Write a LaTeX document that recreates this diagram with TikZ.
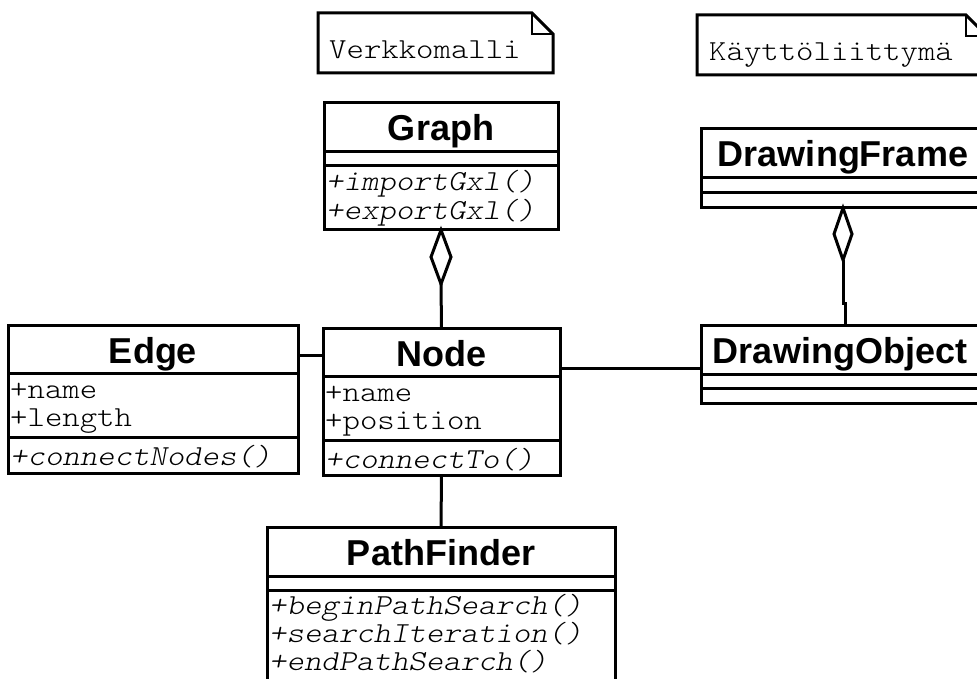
\documentclass[tikz,border=0pt]{standalone}
\usepackage{fontspec}
\newfontfamily\umlsans{Liberation Sans}
\newfontfamily\umlmono{lmmonolt10-regular}[Extension=.otf, ItalicFont=lmmonolt10-oblique, FakeStretch=1.143]
\begin{document}
\begin{tikzpicture}[x=1pt,y=-1pt,
  umlline/.style={line width=3pt, line join=miter},
  foldline/.style={line width=2pt},
  classbox/.style={draw, line width=3pt, anchor=north west, inner sep=0pt, outer sep=0pt},
  cname/.style={font=\umlsans\bfseries\fontsize{36}{36}\selectfont, inner sep=0pt, anchor=base},
  attr/.style={font=\umlmono\fontsize{29}{29}\selectfont, inner sep=0pt, anchor=base west},
  meth/.style={font=\umlmono\itshape\fontsize{29}{29}\selectfont, inner sep=0pt, anchor=base west},
  notetext/.style={font=\umlmono\fontsize{29}{29}\selectfont, inner sep=0pt, anchor=base west}]
\clip (0,0) rectangle (977,679);

% notes
\draw[umlline] (318,13) -- (532,13) -- (553,34) -- (553,73) -- (318,73) -- cycle;
\draw[foldline] (532,13) -- (532,34) -- (553,34);
\node[notetext] (n1) at (329,59) {Verkkomalli};
\draw[umlline] (697,15) -- (966,15) -- (987,36) -- (987,75) -- (697,75) -- cycle;
\draw[foldline] (966,15) -- (966,36) -- (987,36);
\node[notetext] (n2) at (709,61) {Käyttöliittymä};

% Graph
\node[classbox, minimum width=234pt, minimum height=127pt] (graph) at (324,103) {};
\draw[umlline] (graph.west |- 0,152) -- (graph.east |- 0,152);
\draw[umlline] (graph.west |- 0,166) -- (graph.east |- 0,166);
\node[cname] (graphT) at (441,141) {Graph};
\node[meth] (graphM1) at (326,191) {+importGxl()};
\node[meth] (graphM2) at (326,219) {+exportGxl()};

% Edge
\node[classbox, minimum width=290pt, minimum height=148pt] (edge) at (8,325) {};
\draw[umlline] (edge.west |- 0,373) -- (edge.east |- 0,373);
\draw[umlline] (edge.west |- 0,437) -- (edge.east |- 0,437);
\node[cname] (edgeT) at (153,363) {Edge};
\node[attr] (edgeA1) at (10,398) {+name};
\node[attr] (edgeA2) at (10,426) {+length};
\node[meth] (edgeM1) at (10,465) {+connectNodes()};

% Node
\node[classbox, minimum width=237pt, minimum height=147pt] (node) at (323,328) {};
\draw[umlline] (node.west |- 0,376) -- (node.east |- 0,376);
\draw[umlline] (node.west |- 0,440) -- (node.east |- 0,440);
\node[cname] (nodeT) at (441.5,366) {Node};
\node[attr] (nodeA1) at (325,401) {+name};
\node[attr] (nodeA2) at (325,429) {+position};
\node[meth] (nodeM1) at (325,468) {+connectTo()};

% PathFinder
\node[classbox, minimum width=348pt, minimum height=200pt] (pf) at (267,527) {};
\draw[umlline] (pf.west |- 0,576) -- (pf.east |- 0,576);
\draw[umlline] (pf.west |- 0,590) -- (pf.east |- 0,590);
\node[cname] (pfT) at (441,565) {PathFinder};
\node[meth] (pfM1) at (269,614) {+beginPathSearch()};
\node[meth] (pfM2) at (269,642) {+searchIteration()};
\node[meth] (pfM3) at (269,670) {+endPathSearch()};

% DrawingFrame
\node[classbox, minimum width=284pt, minimum height=79pt] (dframe) at (701,129) {};
\draw[umlline] (dframe.west |- 0,178) -- (dframe.east |- 0,178);
\draw[umlline] (dframe.west |- 0,193) -- (dframe.east |- 0,193);
\node[cname] (dframeT) at (843,167) {DrawingFrame};

% DrawingObject
\node[classbox, minimum width=284pt, minimum height=78pt] (dobject) at (701,325) {};
\draw[umlline] (dobject.west |- 0,374) -- (dobject.east |- 0,374);
\draw[umlline] (dobject.west |- 0,388) -- (dobject.east |- 0,388);
\node[cname] (dobjectT) at (840,363) {DrawingObject};

% connectors
\draw[umlline] (graph.south) -- ++(-10,27) -- ++(10,27) -- ++(10,-27) -- cycle;
\coordinate (gd) at ([yshift=-54pt]graph.south);
\draw[umlline] (gd) -- (node.north);

\draw[umlline] (dframe.south) -- ++(-9,26) -- ++(9,26) -- ++(9,-26) -- cycle;
\coordinate (fd) at ([yshift=-52pt]dframe.south);
\draw[umlline] (fd) -- (fd |- 0,303) -- ++(2,0) -- ([xshift=2pt]dobject.north);

\draw[umlline] (edge.east |- 0,355) -- (node.west |- 0,355);
\draw[umlline] (node.east |- 0,368) -- (dobject.west |- 0,368);
\draw[umlline] (node.south) -- (pf.north);
\end{tikzpicture}
\end{document}
